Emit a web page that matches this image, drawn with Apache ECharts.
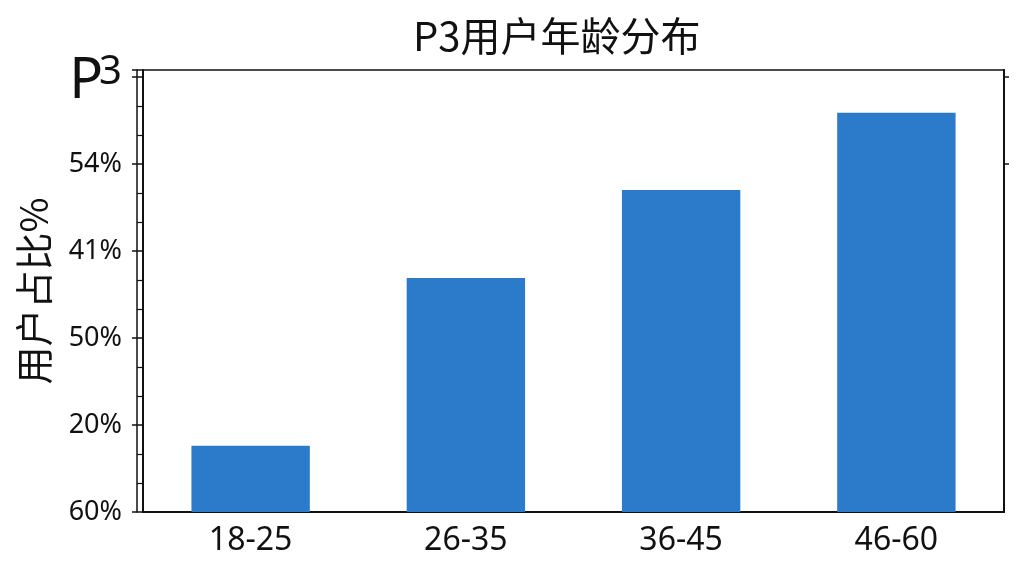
<!DOCTYPE html>
<html>
<head>
<meta charset="utf-8">
<script src="https://cdn.jsdelivr.net/npm/echarts@6/dist/echarts.min.js"></script>
<style>
    html, body { margin: 0; padding: 0; background: #fff; }
    #canvasWrap { width: 1024px; height: 576px; }
</style>
</head>
<body>
<div id="canvasWrap"></div>
<script>
const categories = ['18-25', '26-35', '36-45', '46-60'];
// bar heights in axis units (one unit per tick label)
const values = [0.76, 2.69, 3.70, 4.59];
const yTickLabels = ['60%', '20%', '50%', '41%', '54%', 'P3'];
// 7 minor ticks per category on the bottom axis
const minorCats = [];
for (let i = 0; i < categories.length * 7; i++) minorCats.push('');

const black = '#111';
const font = '"Noto Sans", "Noto Sans CJK SC", sans-serif';

function yLabel(val) {
    const idx = Math.round(val);
    if (Math.abs(val - idx) > 1e-6) return '';
    const text = yTickLabels[idx] || '';
    if (text === 'P3') return '{p|P}{t|3}';
    return text;
}

const myChart = echarts.init(document.getElementById('canvasWrap'));

const option = {
    backgroundColor: '#fff',
    animation: false,
    title: {
        text: 'P3用户年龄分布',
        left: 413,
        top: 16,
        padding: 0,
        textStyle: {
            color: black,
            fontSize: 40,
            fontWeight: 'normal',
            fontFamily: '"Noto Sans CJK SC", sans-serif'
        }
    },
    grid: {
        left: 143,
        right: 20,
        top: 70,
        bottom: 64,
        show: true,
        borderColor: black,
        borderWidth: 1.5
    },
    xAxis: [{
        type: 'category',
        data: categories,
        axisLine: { lineStyle: { color: black, width: 2 } },
        axisTick: { alignWithLabel: true, length: 10, lineStyle: { color: black, width: 1.5 } },
        axisLabel: {
            color: black,
            fontSize: 32,
            fontFamily: font,
            margin: 13
        }
    }, {
        type: 'category',
        data: minorCats,
        position: 'bottom',
        axisLine: { show: false },
        axisTick: { alignWithLabel: true, interval: 0, length: 6, lineStyle: { color: black, width: 1.5 } },
        axisLabel: { show: false },
        splitLine: { show: false }
    }],
    yAxis: [{
        type: 'value',
        min: 0,
        max: 5.08,
        interval: 1,
        name: '用户占比%',
        nameLocation: 'middle',
        nameGap: 90,
        nameTextStyle: {
            color: black,
            fontSize: 38,
            fontFamily: '"Noto Sans CJK SC", sans-serif'
        },
        axisLine: { show: true, lineStyle: { color: black, width: 2 } },
        axisTick: { show: true, length: 11, lineStyle: { color: black, width: 1.5 } },
        minorTick: { show: true, splitNumber: 3, length: 6, lineStyle: { color: black, width: 1.2 } },
        splitLine: { show: false },
        axisLabel: {
            color: black,
            fontSize: 27,
            fontFamily: font,
            margin: 21,
            formatter: yLabel,
            rich: {
                p: { fontSize: 56, fontFamily: font, color: black, padding: [10, 0, 0, 0] },
                t: { fontSize: 40, fontFamily: font, color: black, padding: [0, 0, 8, -4] }
            }
        }
    }, {
        type: 'value',
        position: 'right',
        min: 0,
        max: 5.08,
        interval: 1,
        axisLine: { show: true, lineStyle: { color: black, width: 2 } },
        axisTick: { show: true, customValues: [4, 5], length: 5, lineStyle: { color: black, width: 1.5 } },
        axisLabel: { show: false },
        splitLine: { show: false }
    }, {
        type: 'value',
        position: 'left',
        offset: 6,
        min: 0,
        max: 5.08,
        interval: 1,
        axisLine: { show: true, lineStyle: { color: black, width: 1.5 } },
        axisTick: { show: false },
        axisLabel: { show: false },
        splitLine: { show: false }
    }],
    series: [{
        type: 'bar',
        xAxisIndex: 0,
        yAxisIndex: 0,
        barWidth: '55%',
        itemStyle: { color: '#2c7bca' },
        data: values
    }]
};

myChart.setOption(option);
</script>
</body>
</html>
